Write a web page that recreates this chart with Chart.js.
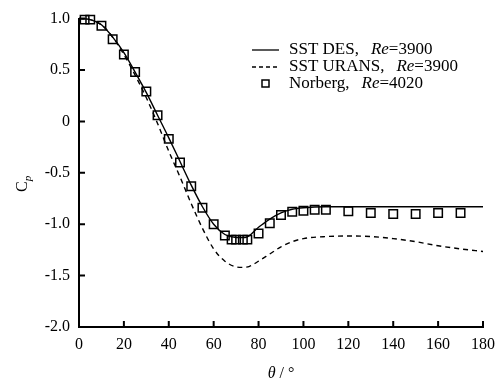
<!DOCTYPE html>
<html>
<head>
<meta charset="utf-8">
<script src="https://cdn.jsdelivr.net/npm/chart.js@4.4.1/dist/chart.umd.min.js"></script>
<style>
  html, body { margin: 0; padding: 0; background: #fff; }
  #wrap { width: 503px; height: 385px; position: relative; }
</style>
</head>
<body>
<div id="wrap"><canvas id="cp"></canvas></div>
<script>
// pressure coefficient around the cylinder
const thetaDES = [0, 5, 10, 15, 20, 25, 30, 35, 40, 45, 50, 55, 60, 65, 70, 74, 80, 85, 90, 95, 100, 110, 120, 140, 160, 180];
const cpDES    = [1.0, 0.99, 0.94, 0.82, 0.67, 0.48, 0.28, 0.06, -0.16, -0.39, -0.62, -0.83, -1.0, -1.1, -1.13, -1.13, -1.03, -0.95, -0.89, -0.855, -0.84, -0.83, -0.83, -0.83, -0.83, -0.83];

const thetaURANS = [0, 5, 10, 15, 20, 25, 30, 35, 40, 45, 50, 55, 60, 65, 70, 73, 76, 80, 85, 90, 95, 100, 110, 120, 130, 140, 150, 160, 170, 180];
const cpURANS    = [1.0, 0.99, 0.94, 0.82, 0.65, 0.45, 0.23, -0.02, -0.29, -0.54, -0.8, -1.04, -1.24, -1.36, -1.415, -1.42, -1.41, -1.36, -1.29, -1.22, -1.17, -1.14, -1.12, -1.115, -1.12, -1.14, -1.17, -1.21, -1.24, -1.265];

const thetaExp = [2.5, 5, 10, 15, 20, 25, 30, 35, 40, 45, 50, 55, 60, 65, 68, 70, 73, 75, 80, 85, 90, 95, 100, 105, 110, 120, 130, 140, 150, 160, 170];
const cpExp    = [0.99, 0.99, 0.93, 0.8, 0.65, 0.48, 0.29, 0.06, -0.17, -0.4, -0.63, -0.84, -1.0, -1.11, -1.15, -1.15, -1.15, -1.15, -1.09, -0.99, -0.91, -0.88, -0.87, -0.86, -0.86, -0.875, -0.89, -0.9, -0.9, -0.89, -0.89];

const legendItems = [
  { name: 'SST DES,', re: '=3900', kind: 'solid' },
  { name: 'SST URANS,', re: '=3900', kind: 'dash' },
  { name: 'Norberg,', re: '=4020', kind: 'square' }
];

const SERIF = '"Liberation Serif", "DejaVu Serif", serif';

function pts(xs, ys) {
  return xs.map((x, i) => ({ x: x, y: ys[i] }));
}

// inward ticks, legend and axis titles drawn by hand
const decorations = {
  id: 'decorations',
  afterDraw(chart) {
    const ctx = chart.ctx;
    const xs = chart.scales.x, ys = chart.scales.y;
    const area = chart.chartArea;
    ctx.save();
    ctx.strokeStyle = '#000';
    ctx.lineWidth = 2;
    ctx.beginPath();
    xs.ticks.forEach(t => {
      const px = xs.getPixelForValue(t.value);
      if (t.value === 0) return;
      ctx.moveTo(px, area.bottom);
      ctx.lineTo(px, area.bottom - 6);
    });
    ys.ticks.forEach(t => {
      const py = ys.getPixelForValue(t.value);
      ctx.moveTo(area.left, py);
      ctx.lineTo(area.left + 6, py);
    });
    ctx.stroke();

    // legend
    ctx.fillStyle = '#000';
    ctx.textBaseline = 'middle';
    let y = 50;
    legendItems.forEach(item => {
      ctx.lineWidth = 1.3;
      ctx.setLineDash(item.kind === 'dash' ? [4, 3] : []);
      if (item.kind === 'square') {
        ctx.lineWidth = 1.5;
        ctx.strokeRect(262, y - 4, 7, 7);
      } else {
        ctx.beginPath();
        ctx.moveTo(252, y);
        ctx.lineTo(279, y);
        ctx.stroke();
      }
      ctx.setLineDash([]);
      let x = 289;
      ctx.font = '17px ' + SERIF;
      ctx.fillText(item.name, x, y);
      x += ctx.measureText(item.name).width + 12;
      ctx.font = 'italic 17px ' + SERIF;
      ctx.fillText('Re', x, y);
      x += ctx.measureText('Re').width;
      ctx.font = '17px ' + SERIF;
      ctx.fillText(item.re, x, y);
      y += 17;
    });

    // x title
    ctx.textAlign = 'left';
    ctx.textBaseline = 'alphabetic';
    ctx.font = 'italic 16px ' + SERIF;
    const tw = ctx.measureText('θ').width;
    ctx.font = '16px ' + SERIF;
    const rest = ' / °';
    const rw = ctx.measureText(rest).width;
    let tx = (area.left + area.right) / 2 - (tw + rw) / 2;
    ctx.font = 'italic 16px ' + SERIF;
    ctx.fillText('θ', tx, 378);
    ctx.font = '16px ' + SERIF;
    ctx.fillText(rest, tx + tw, 378);

    // y title
    ctx.translate(27, 185);
    ctx.rotate(-Math.PI / 2);
    ctx.font = '16px ' + SERIF;
    ctx.fillText('C', -7, 0);
    const cw = ctx.measureText('C').width;
    ctx.font = 'italic 11px ' + SERIF;
    ctx.fillText('p', -7 + cw, 4);
    ctx.restore();
  }
};

new Chart(document.getElementById('cp'), {
  type: 'scatter',
  data: {
    datasets: [
      {
        label: 'SST DES',
        data: pts(thetaDES, cpDES),
        showLine: true,
        borderColor: '#000',
        borderWidth: 1.4,
        pointRadius: 0,
        cubicInterpolationMode: 'monotone',
        fill: false
      },
      {
        label: 'SST URANS',
        data: pts(thetaURANS, cpURANS),
        showLine: true,
        borderColor: '#000',
        borderWidth: 1.4,
        borderDash: [5, 4],
        pointRadius: 0,
        cubicInterpolationMode: 'monotone',
        fill: false
      },
      {
        label: 'Norberg',
        data: pts(thetaExp, cpExp),
        showLine: false,
        pointStyle: 'rect',
        pointRadius: 6,
        pointBorderWidth: 1.5,
        pointBorderColor: '#000',
        pointBackgroundColor: 'rgba(0,0,0,0)'
      }
    ]
  },
  options: {
    responsive: true,
    maintainAspectRatio: false,
    animation: false,
    clip: false,
    layout: { padding: { left: 0, right: 19, top: 15, bottom: 0 } },
    plugins: {
      legend: { display: false },
      tooltip: { enabled: false }
    },
    scales: {
      x: {
        type: 'linear',
        min: 0,
        max: 180,
        afterFit(scale) { scale.height = 58; },
        ticks: {
          stepSize: 20,
          padding: 8,
          color: '#000',
          font: { family: SERIF, size: 16 }
        },
        grid: { display: true, drawOnChartArea: false, drawTicks: false },
        border: { display: true, color: '#000', width: 2 }
      },
      y: {
        min: -2,
        max: 1,
        afterFit(scale) { scale.width = 79; },
        ticks: {
          stepSize: 0.5,
          padding: 9,
          color: '#000',
          font: { family: SERIF, size: 16 },
          callback: v => (v === 0 ? '0' : v.toFixed(1))
        },
        grid: { display: true, drawOnChartArea: false, drawTicks: false },
        border: { display: true, color: '#000', width: 2 }
      }
    }
  },
  plugins: [decorations]
});
</script>
</body>
</html>
